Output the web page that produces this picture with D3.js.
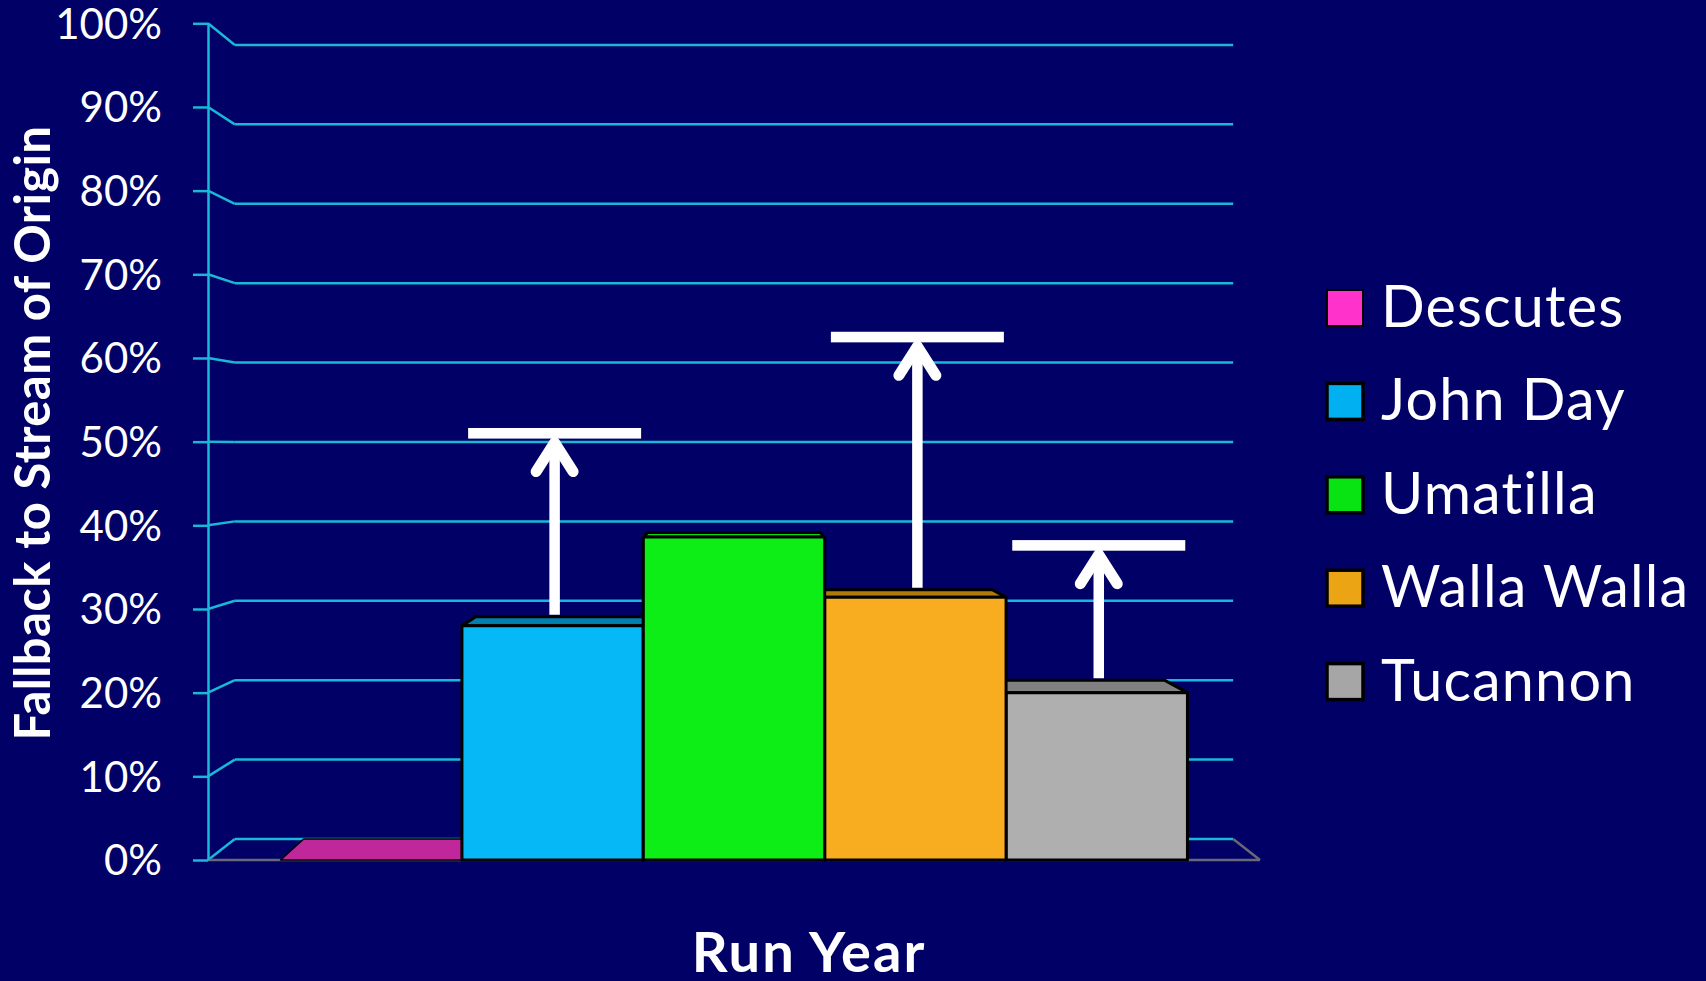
<!DOCTYPE html>
<html>
<head>
<meta charset="utf-8">
<script src="https://cdn.jsdelivr.net/npm/d3@7"></script>
<style>
  html, body { margin: 0; padding: 0; background: #000066; }
  svg { display: block; }
</style>
</head>
<body>
<svg id="chart" width="1706" height="981"></svg>
<script>
// Fallback to stream of origin, by stream
const categories = ["Descutes", "John Day", "Umatilla", "Walla Walla", "Tucannon"];
const fallbackPct = [0, 28, 38.6, 31.4, 20];
// Upper estimates marked with arrows (null = no arrow)
const upperPct = [null, 51, null, 62.5, 37.6];

const yTicks = [0, 10, 20, 30, 40, 50, 60, 70, 80, 90, 100];
const yTickLabels = ["0%", "10%", "20%", "30%", "40%", "50%", "60%", "70%", "80%", "90%", "100%"];

const frontColors  = ["#C0279B", "#06B8F6", "#0CEE16", "#F8AC20", "#AFAFAF"];
const topColors    = ["#C0279B", "#0180B0", "#0BD814", "#B07A0A", "#808080"];
const legendColors = ["#FF33CC", "#00B0F0", "#08E412", "#EBA514", "#A6A6A6"];

const yTitle = "Fallback to Stream of Origin";
const xTitle = "Run Year";

const svg = d3.select("#chart");
const FONT = "Lato, 'Open Sans', sans-serif";
const GRID = "#19B8D7";

// Front plane of the 3-D box
const left = 208, right = 1260;
const y = d3.scaleLinear().domain([0, 100]).range([860, 23.3]);
const x = d3.scaleBand().domain(categories).range([left, right])
  .paddingInner(0).paddingOuter(0.4);

// Perspective: back plane is the front plane shrunk toward a vanishing point
const vp = [734, 448], depth = 0.949;
const back = (px, py) => [vp[0] + depth * (px - vp[0]), vp[1] + depth * (py - vp[1])];

// Walls: gridlines on back wall and side wall
const walls = svg.append("g").attr("stroke", GRID).attr("stroke-width", 2.5).attr("fill", "none");
yTicks.forEach(t => {
  const fy = y(t);
  const b0 = back(left, fy), b1 = back(right, fy);
  walls.append("line").attr("x1", b0[0]).attr("y1", b0[1]).attr("x2", b1[0]).attr("y2", b1[1]);
  walls.append("line").attr("x1", left).attr("y1", fy).attr("x2", b0[0]).attr("y2", b0[1]);
});

// Floor edges
const floorBackRight = back(right, y(0));
const floor = svg.append("g").attr("stroke", "#686878").attr("stroke-width", 2.5).attr("fill", "none");
floor.append("line").attr("x1", left).attr("y1", y(0)).attr("x2", right).attr("y2", y(0));
floor.append("line").attr("x1", right).attr("y1", y(0))
  .attr("x2", floorBackRight[0]).attr("y2", floorBackRight[1]);

// Value axis
const axis = d3.axisLeft(y)
  .tickValues(yTicks)
  .tickFormat((d, i) => yTickLabels[i])
  .tickSizeInner(15)
  .tickSizeOuter(0)
  .tickPadding(31);
const axisG = svg.append("g").attr("transform", `translate(${left},0)`).call(axis);
axisG.select(".domain").attr("stroke", GRID).attr("stroke-width", 2.5);
axisG.selectAll(".tick line").attr("stroke", GRID).attr("stroke-width", 2.5);
axisG.selectAll(".tick text")
  .attr("fill", "#FFFFFF")
  .attr("font-family", FONT)
  .attr("font-size", 42)
  .attr("dy", "0.355em");

// Bars: painted from the outside in so nearer side faces overlap correctly
const bars = categories.map((c, i) => ({ c, i, v: fallbackPct[i] }));
bars.sort((a, b) => Math.abs(x(b.c) + x.bandwidth() / 2 - vp[0]) - Math.abs(x(a.c) + x.bandwidth() / 2 - vp[0]));

const barG = svg.append("g")
  .attr("stroke", "#000000").attr("stroke-width", 3).attr("stroke-linejoin", "round");
const pts = arr => arr.map(p => p.join(",")).join(" ");

bars.forEach(d => {
  const x0 = x(d.c), x1 = x0 + x.bandwidth();
  const yt = y(d.v), yb = y(0);
  const cx = (x0 + x1) / 2;
  // side face toward the vanishing point
  if (d.v > 0) {
    const sx = cx < vp[0] ? x1 : x0;
    barG.append("polygon")
      .attr("points", pts([[sx, yt], [sx, yb], back(sx, yb), back(sx, yt)]))
      .attr("fill", topColors[d.i]);
  }
  // top face
  barG.append("polygon")
    .attr("points", pts([[x0, yt], [x1, yt], back(x1, yt), back(x0, yt)]))
    .attr("fill", topColors[d.i])
    .attr("stroke-width", d.v > 0 ? 3 : 1.5);
  // front face
  if (d.v > 0) {
    barG.append("rect")
      .attr("x", x0).attr("y", yt)
      .attr("width", x1 - x0).attr("height", yb - yt)
      .attr("fill", frontColors[d.i]);
  }
});

// Arrows rising from bars to their upper estimates
const arrowG = svg.append("g");
categories.forEach((c, i) => {
  if (upperPct[i] == null) return;
  const cx = x(c) + x.bandwidth() / 2 + 2;
  const barBackTop = back(cx, y(fallbackPct[i]))[1] - 2;
  const capY = y(upperPct[i]);
  const capH = 10.6, capW = 173;
  const capBottom = capY + capH / 2;
  arrowG.append("rect")
    .attr("x", cx - capW / 2).attr("y", capY - capH / 2)
    .attr("width", capW).attr("height", capH)
    .attr("fill", "#FFFFFF");
  arrowG.append("line")
    .attr("x1", cx).attr("y1", barBackTop).attr("x2", cx).attr("y2", capBottom + 4)
    .attr("stroke", "#FFFFFF").attr("stroke-width", 10.5);
  arrowG.append("polyline")
    .attr("points", pts([[cx - 18.5, capBottom + 33], [cx, capBottom + 4], [cx + 18.5, capBottom + 33]]))
    .attr("fill", "none").attr("stroke", "#FFFFFF").attr("stroke-width", 11)
    .attr("stroke-linecap", "round").attr("stroke-linejoin", "round");
});

// Legend
const legend = svg.append("g").attr("transform", "translate(1327,290)");
categories.forEach((c, i) => {
  const row = legend.append("g").attr("transform", `translate(0,${i * 93.4})`);
  row.append("rect")
    .attr("x", 0).attr("y", 0).attr("width", 36).attr("height", 36)
    .attr("fill", legendColors[i])
    .attr("stroke", "#000000").attr("stroke-width", i === 0 ? 2 : 3.5);
  row.append("text")
    .attr("x", 54).attr("y", 37)
    .attr("fill", "#FFFFFF")
    .attr("font-family", FONT)
    .attr("font-size", 57.5)
    .attr("letter-spacing", 1.2)
    .text(c);
});

// Axis titles
svg.append("text")
  .attr("transform", "translate(50,433) rotate(-90)")
  .attr("text-anchor", "middle")
  .attr("fill", "#FFFFFF")
  .attr("font-family", FONT)
  .attr("font-weight", "bold")
  .attr("font-size", 49)
  .attr("letter-spacing", 0.4)
  .text(yTitle);

svg.append("text")
  .attr("x", 809).attr("y", 972)
  .attr("text-anchor", "middle")
  .attr("fill", "#FFFFFF")
  .attr("font-family", FONT)
  .attr("font-weight", "bold")
  .attr("font-size", 56)
  .attr("letter-spacing", 2)
  .text(xTitle);
</script>
</body>
</html>
